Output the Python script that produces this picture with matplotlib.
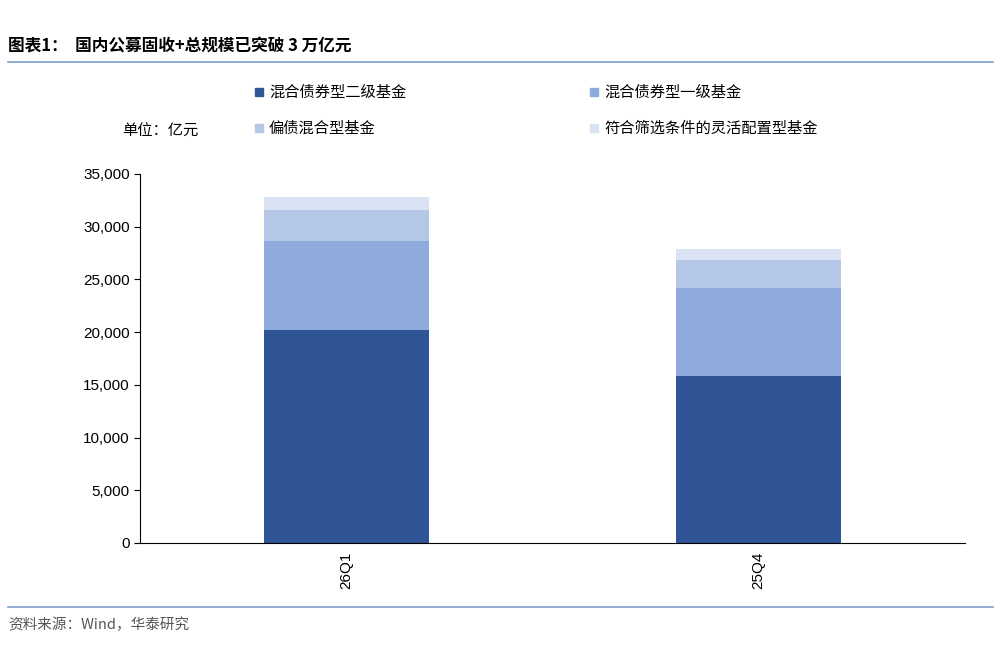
import matplotlib
matplotlib.use("Agg")
import matplotlib.pyplot as plt
from matplotlib.patches import Patch
from matplotlib.lines import Line2D

plt.rcParams['font.family'] = ['Noto Sans CJK SC', 'DejaVu Sans']

categories = ["26Q1", "25Q4"]
series_names = ["混合债券型二级基金", "混合债券型一级基金", "偏债混合型基金", "符合筛选条件的灵活配置型基金"]
secondary = [20200, 15840]
primary = [8440, 8350]
bond_mix = [2940, 2650]
flexible = [1240, 1040]
yticks = [0, 5000, 10000, 15000, 20000, 25000, 30000, 35000]
colors = ["#2F5597", "#8FAADC", "#B4C7E7", "#DAE3F3"]

fig = plt.figure(figsize=(10.02, 6.63), dpi=100)
ax = fig.add_axes([140/1002, 1-543/663, 825/1002, 369/663])
x = list(range(len(categories)))
bottom = [0]*len(categories)
for vals, c in zip([secondary, primary, bond_mix, flexible], colors):
    ax.bar(x, vals, 0.4, bottom=bottom, color=c)
    bottom = [b+v for b, v in zip(bottom, vals)]
ax.set_xlim(-0.5, 1.5)
ax.set_ylim(0, 35000)
ax.set_yticks(yticks)
ax.set_yticklabels([f"{v:,}" for v in yticks], fontsize=11, family='Liberation Sans')
ax.set_xticks(x)
ax.set_xticklabels(categories, rotation=90, fontsize=11, family='Liberation Sans')
ax.tick_params(axis='x', length=0, pad=6)
ax.tick_params(axis='y', length=4)
for s in ['top', 'right']:
    ax.spines[s].set_visible(False)

handles = [Patch(color=c) for c in colors]
positions = [(255, 92), (590, 92), (255, 128), (590, 128)]
for (px, py), c, n in zip(positions, colors, series_names):
    fig.patches.append(plt.Rectangle((px/1002, 1-(py+4)/663), 8/1002, 8/663, color=c, transform=fig.transFigure, figure=fig))
    fig.text((px+14)/1002, 1-py/663, n, fontsize=11, va='center')
fig.text(122/1002, 1-131/663, "单位：亿元", fontsize=11, va='center')

fig.text(8/1002, 1-45/663, "图表1：  国内公募固收+总规模已突破 3 万亿元", fontsize=12, fontweight='bold', va='center')
fig.add_artist(Line2D([8/1002, 993/1002], [1-62/663]*2, color="#7F9CC8", lw=1.2))
fig.add_artist(Line2D([8/1002, 993/1002], [1-607/663]*2, color="#7F9CC8", lw=1.2))
fig.text(8/1002, 1-625/663, "资料来源：Wind，华泰研究", fontsize=10.5, color="#555555", va='center')

fig.savefig("out.png", dpi=100)
